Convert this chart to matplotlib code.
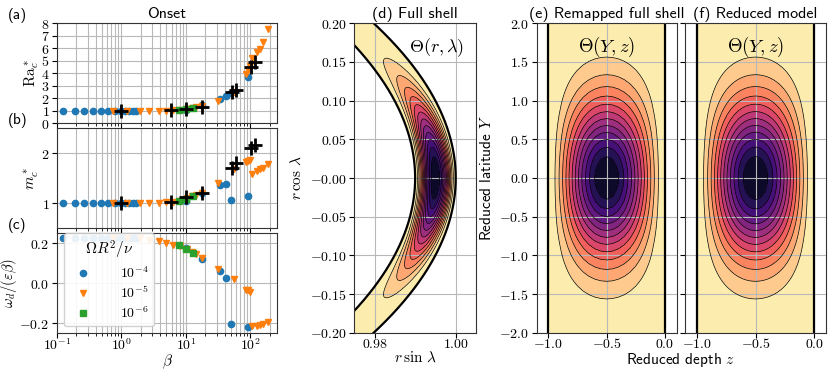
import numpy as np
import matplotlib
matplotlib.use('Agg')
import matplotlib.pyplot as plt
from matplotlib.ticker import NullFormatter

plt.rcParams.update({
    'font.family': 'cmss10',
    'mathtext.fontset': 'cm',
    'axes.unicode_minus': False,
    'axes.formatter.use_mathtext': True,
    'font.size': 11,
    'xtick.labelsize': 10,
    'ytick.labelsize': 10,
    'xtick.major.pad': -0.5,
    'ytick.major.pad': 2,
    'axes.edgecolor': '0.2',
    'grid.color': '#b8b8b8',
    'grid.linewidth': 0.8,
})

# onset data, Omega R^2/nu = 1e-4, 1e-5, 1e-6
beta_e4 = [0.125, 0.19, 0.26, 0.36, 0.48, 0.63, 0.8, 1.0, 1.15, 1.32, 1.5, 1.68, 10.0, 18.0, 33.5, 41.5, 51.0, 91.0]
ra_e4 = [1.0, 1.0, 1.0, 1.0, 1.0, 1.0, 1.0, 1.0, 1.0, 1.0, 1.0, 1.0, 1.1, 1.45, 1.94, 2.2, 2.42, 3.73]
m_e4 = [1.0, 1.0, 1.0, 1.0, 1.0, 1.0, 1.0, 1.0, 1.0, 1.0, 1.0, 1.0, 1.05, 1.2, 1.36, 1.38, 1.075, 1.14]
om_e4 = [0.225, 0.225, 0.225, 0.225, 0.225, 0.225, 0.225, 0.225, 0.225, 0.225, 0.225, 0.225,
         0.175, 0.12, 0.062, 0.025, -0.203, -0.22]

beta_e5 = [0.75, 1.23, 1.94, 2.7, 3.77, 5.0, 6.3, 8.0, 10.5, 12.5, 14.6, 17.5, 31.6, 55.0,
           87.0, 93.0, 100.0, 108.0, 127.0, 140.0, 158.0, 188.0]
ra_e5 = [1.0, 1.0, 1.0, 1.0, 1.0, 1.0, 1.03, 1.06, 1.12, 1.2, 1.3, 1.38, 1.8, 2.5,
         3.95, 4.3, 4.6, 5.2, 5.7, 5.97, 6.5, 7.58]
m_e5 = [1.0, 1.0, 1.0, 1.0, 1.01, 1.02, 1.03, 1.05, 1.1, 1.14, 1.16, 1.2, 1.41, 1.68,
        1.83, 1.84, 1.86, 1.58, 1.64, 1.68, 1.71, 1.78]
om_e5 = [0.225, 0.225, 0.225, 0.217, 0.21, 0.2, 0.193, 0.185, 0.17, 0.155, 0.145, 0.128, 0.072, 0.02,
         -0.033, -0.035, -0.045, -0.215, -0.212, -0.208, -0.203, -0.193]

beta_e6 = [7.9, 10.2, 13.0]
ra_e6 = [1.07, 1.12, 1.2]
m_e6 = [1.05, 1.09, 1.14]
om_e6 = [0.19, 0.17, 0.15]

# black crosses (reduced model)
beta_x = [1.0, 5.8, 10.2, 17.5, 52.7, 59.5, 103.0, 117.0]
ra_x = [1.0, 1.03, 1.13, 1.34, 2.52, 2.69, 4.48, 4.89]
m_x = [1.0, 1.03, 1.12, 1.21, 1.70, 1.80, 2.11, 2.17]

EPS = 0.01
N_LEVELS = 14


def theta(Y, z):
    s = np.clip(np.sin(-np.pi * z), 0, None)
    return -(s ** 1.5) * np.exp(-1.05 * Y ** 2)


def px(l, t, r, b):
    W, H = 830, 370
    return [l / W, 1 - b / H, (r - l) / W, (b - t) / H]


fig = plt.figure(figsize=(8.3, 3.7), dpi=100)

ax_a = fig.add_axes(px(57, 23.3, 277, 123.3))
ax_b = fig.add_axes(px(57, 128.3, 277, 228.3), sharex=ax_a)
ax_c = fig.add_axes(px(57, 233.3, 277, 333.3), sharex=ax_a)

for ax, key in [(ax_a, 'ra'), (ax_b, 'm'), (ax_c, 'om')]:
    d4 = {'ra': ra_e4, 'm': m_e4, 'om': om_e4}[key]
    d5 = {'ra': ra_e5, 'm': m_e5, 'om': om_e5}[key]
    d6 = {'ra': ra_e6, 'm': m_e6, 'om': om_e6}[key]
    ax.plot(beta_e4, d4, 'o', color='C0', ms=4.5, label=r'$10^{-4}$')
    ax.plot(beta_e5, d5, 'v', color='C1', ms=5, label=r'$10^{-5}$')
    ax.plot(beta_e6, d6, 's', color='C2', ms=4.5, label=r'$10^{-6}$')
    if key != 'om':
        dx = ra_x if key == 'ra' else m_x
        ax.plot(beta_x, dx, '+', color='k', ms=10, mew=2)
    ax.set_xscale('log')
    ax.grid(True, which='major')
    ax.grid(True, which='minor', axis='x')

ax_a.set_xlim(0.1, 260)
ax_a.set_ylim(0, 8)
ax_a.set_yticks(range(9), [f'${i}$' for i in range(9)])
ax_b.set_ylim(0.5, 2.5)
ax_b.set_yticks([1, 2], ['$1$', '$2$'])
ax_c.set_ylim(-0.25, 0.25)
ax_c.set_yticks([-0.2, 0.0, 0.2], ['$-0.2$', '$0.0$', '$0.2$'])
ax_c.set_xticks([0.1, 1, 10, 100], [r'$10^{-1}$', r'$10^{0}$', r'$10^{1}$', r'$10^{2}$'])
ax_c.xaxis.set_minor_formatter(NullFormatter())
plt.setp(ax_a.get_xticklabels(), visible=False)
plt.setp(ax_b.get_xticklabels(), visible=False)

ax_a.set_ylabel(r'$\mathrm{Ra}_c^*$', labelpad=0)
ax_b.set_ylabel(r'$m_c^*$', labelpad=0)
ax_c.set_ylabel(r'$\omega_d/(\varepsilon\beta)$', labelpad=0, fontsize=10.5)
ax_c.set_xlabel(r'$\beta$', labelpad=0)
ax_a.set_title('Onset', fontsize=11.5, pad=4)
fig.align_ylabels([ax_a, ax_b, ax_c])

for ax, lab in [(ax_a, '(a)'), (ax_b, '(b)'), (ax_c, '(c)')]:
    ax.text(-0.225, 1.08, lab, transform=ax.transAxes, ha='left', va='center', fontsize=11)

ax_c.legend(title=r'$\Omega R^2/\nu$', loc='lower left', fontsize=10, title_fontsize=11,
            handletextpad=1.6, labelspacing=0.3, borderaxespad=0.5, framealpha=0.9)

levels = np.linspace(-1, 0, N_LEVELS)
cnorm = plt.Normalize(-1.04, 0)

# (d) full shell
ax_d = fig.add_axes(px(354.3, 23.3, 476, 332.7))
r = np.linspace(1 - EPS, 1, 120)
lam = np.linspace(np.pi / 2 - 0.24, np.pi / 2 + 0.24, 600)
R, L = np.meshgrid(r, lam)
Xs, Ys = R * np.sin(L), R * np.cos(L)
Th = theta((np.pi / 2 - L) / np.sqrt(EPS), (R - 1) / EPS)
ax_d.contourf(Xs, Ys, Th, levels=levels, cmap='magma', norm=cnorm)
ax_d.contour(Xs, Ys, Th, levels=levels[1:-1], colors='k', linewidths=0.5, negative_linestyles='solid')
for rr in [1 - EPS, 1]:
    ax_d.plot(rr * np.sin(lam), rr * np.cos(lam), color='k', lw=1.6)
ax_d.set_xlim(0.975, 1.005)
ax_d.set_ylim(-0.2, 0.2)
yt = np.arange(-0.2, 0.201, 0.05)
ax_d.set_yticks(yt, [f'${v:.2f}$' for v in yt])
ax_d.set_xticks([0.98, 1.0], ['$0.98$', '$1.00$'])
ax_d.grid(True)
ax_d.set_xlabel(r'$r\,\sin\,\lambda$', labelpad=0)
ax_d.set_ylabel(r'$r\,\cos\,\lambda$')
ax_d.set_title('(d) Full shell', fontsize=11.5, pad=4)
ax_d.text(0.9, 0.92, r'$\Theta(r,\lambda)$', transform=ax_d.transAxes, ha='right', va='center', fontsize=13)

# (e) remapped full shell, (f) reduced model
ax_e = fig.add_axes(px(536.7, 23.3, 676.7, 332.7))
ax_f = fig.add_axes(px(685, 23.3, 826, 332.7), sharey=ax_e)
for ax, nz, ny in [(ax_e, 21, 81), (ax_f, 200, 400)]:
    zz, yy = np.meshgrid(np.linspace(-1, 0, nz), np.linspace(-2, 2, ny))
    T = theta(yy, zz)
    ax.contourf(zz, yy, T, levels=levels, cmap='magma', norm=cnorm)
    ax.contour(zz, yy, T, levels=levels[1:-1], colors='k', linewidths=0.5, negative_linestyles='solid')
    ax.axvline(-1, color='k', lw=1.6)
    ax.axvline(0, color='k', lw=1.6)
    ax.set_xlim(-1.1, 0.1)
    ax.set_xticks([-1.0, -0.5, 0.0], ['$-1.0$', '$-0.5$', '$0.0$'])
    ax.grid(True)
    ax.text(-0.5, 1.7, r'$\Theta(Y,z)$', ha='center', va='center', fontsize=13.5)

ax_e.set_ylim(-2, 2)
ytt = np.arange(-2, 2.01, 0.5)
ax_e.set_yticks(ytt, [f'${v:.1f}$' for v in ytt])
plt.setp(ax_f.get_yticklabels(), visible=False)
ax_e.set_ylabel('Reduced latitude $Y$')
ax_e.set_title('(e) Remapped full shell', fontsize=11.5, pad=4)
ax_f.set_title('(f) Reduced model', fontsize=11.5, pad=4)
fig.text(681 / 830, 1 - 360 / 370, 'Reduced depth $z$', ha='center', va='center', fontsize=11)

fig.savefig('out.png', dpi=100)
